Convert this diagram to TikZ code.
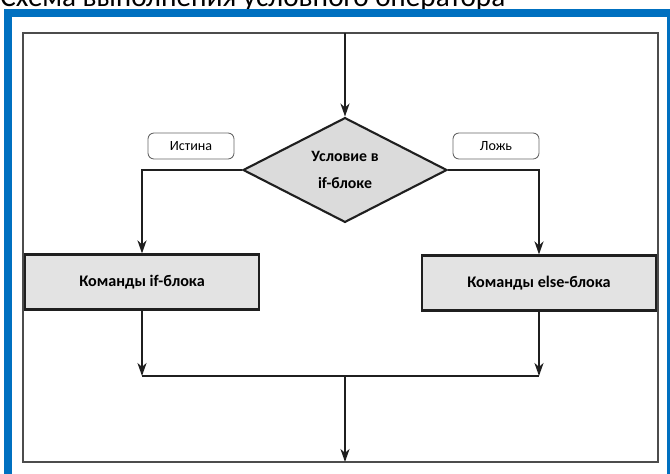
\documentclass[tikz,border=0pt]{standalone}
\usepackage{fontspec}
\setmainfont{Carlito}
\usetikzlibrary{shapes.geometric,arrows.meta,calc}
\definecolor{frameblue}{RGB}{0,112,192}

\begin{document}
\begin{tikzpicture}[x=0.2mm,y=-0.2mm,
  flow/.style={draw=black!88,line width=1.2pt,-{Stealth[length=2.6mm,width=1.8mm,inset=0.8mm]}},
  line/.style={draw=black!88,line width=1.2pt},
  block/.style={draw=black!88,line width=1.2pt,fill=gray!22,minimum width=46.7mm,minimum height=11mm,inner sep=0pt,font=\fontsize{9.2}{11}\selectfont\bfseries},
  cond/.style={diamond,draw=black!88,line width=1.2pt,fill=gray!28,minimum width=40.8mm,minimum height=20mm,inner sep=0pt,align=center,font=\fontsize{9}{15.5}\selectfont\bfseries},
  tag/.style={draw=black!60,line width=0.5pt,rounded corners=1.2mm,minimum width=17.2mm,minimum height=5.2mm,inner sep=0pt,font=\fontsize{8}{10}\selectfont}]
  \useasboundingbox (0,0) rectangle (670,474);
  \clip (0,0) rectangle (670,474);
  \node[anchor=base west,inner sep=0pt,font=\fontsize{16.6}{18}\selectfont] (title) at (0,7) {Схема выполнения условного оператора};
  \draw[frameblue,line width=1.6mm] (8,13) rectangle (671,480);
  \draw[black!70,line width=0.6pt] (23,33) rectangle (658,462);
  \coordinate (top) at (345,33);
  \coordinate (merge) at (345,376);
  \coordinate (bottom) at (345,462);
  \node[cond] (cnd) at (345,170) {Условие в\\if-блоке};
  \node[tag] (yes) at (191,146) {Истина};
  \node[tag] (no) at (496,146) {Ложь};
  \node[block] (ifblk) at (142,282) {Команды if-блока};
  \node[block] (elseblk) at (539,283) {Команды else-блока};
  \draw[flow] (top) -- (cnd.north);
  \draw[flow] (cnd.west) -| (ifblk.north);
  \draw[flow] (cnd.east) -| (elseblk.north);
  \draw[flow] (ifblk.south) -- (ifblk.south |- merge);
  \draw[flow] (elseblk.south) -- (elseblk.south |- merge);
  \draw[line] (ifblk.south |- merge) -- (elseblk.south |- merge);
  \draw[flow] (merge) -- (bottom);
\end{tikzpicture}
\end{document}
